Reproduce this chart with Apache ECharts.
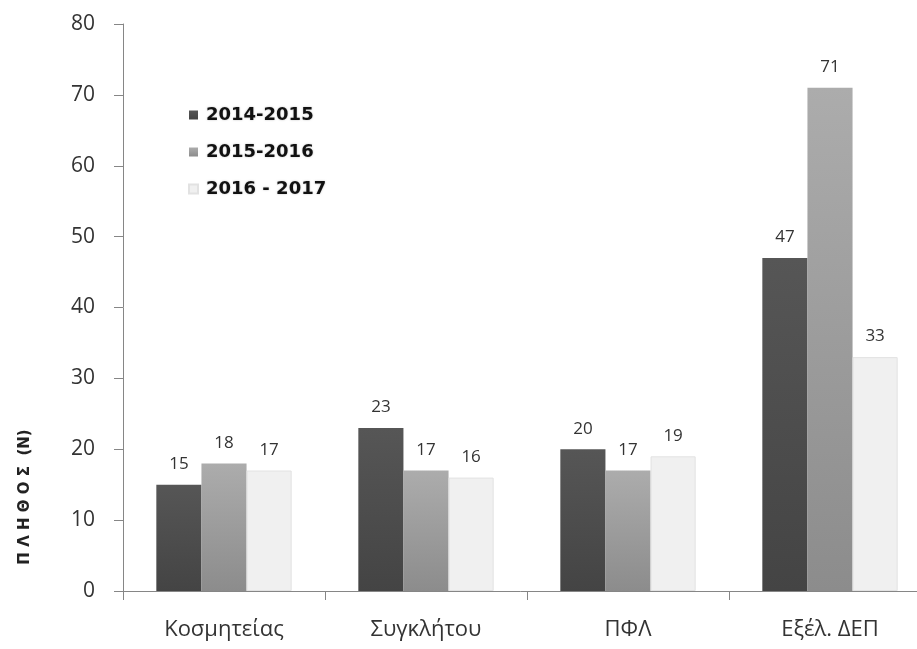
<!DOCTYPE html>
<html>
<head>
<meta charset="utf-8">
<script src="https://cdn.jsdelivr.net/npm/echarts@6/dist/echarts.min.js"></script>
<style>html,body{margin:0;padding:0;background:#fff;}#c{width:917px;height:649px;}</style>
</head>
<body>
<div id="c"></div>
<script>
const categories = ['Κοσμητείας', 'Συγκλήτου', 'ΠΦΛ', 'Εξέλ. ΔΕΠ'];
const seriesNames = ['2014-2015', '2015-2016', '2016 - 2017'];
const values2014 = [15, 23, 20, 47];
const values2015 = [18, 17, 17, 71];
const values2016 = [17, 16, 19, 33];
const yTicks = { min: 0, max: 80, interval: 10 };
const yAxisTitle = 'Π Λ Η Θ Ο Σ  (N)';

const chart = echarts.init(document.getElementById('c'), null, {renderer: 'canvas'});
function grad(top, bottom) {
  return new echarts.graphic.LinearGradient(0, 0, 0, 1, [{offset: 0, color: top}, {offset: 1, color: bottom}]);
}
const labelStyle = {show: true, position: 'top', distance: 12, fontFamily: 'Open Sans', fontSize: 17, color: '#333'};
chart.setOption({
  animation: false,
  backgroundColor: '#fff',
  grid: {left: 123, right: -14, top: 24, bottom: 58, containLabel: false, outerBoundsMode: 'none'},
  legend: {
    orient: 'vertical', left: 183, top: 100, itemGap: 17,
    itemWidth: 9, itemHeight: 9, icon: 'rect',
    textStyle: {fontFamily: 'DejaVu Sans', fontWeight: 'bold', fontSize: 18, color: '#111', lineHeight: 20,
      padding: [0, 0, 0, 3], textShadowColor: 'rgba(0,0,0,0.25)', textShadowBlur: 2},
    data: seriesNames
  },
  xAxis: {
    type: 'category', data: categories,
    axisLine: {lineStyle: {color: '#868686', width: 1}},
    axisTick: {show: true, length: 9, lineStyle: {color: '#868686'}},
    axisLabel: {fontFamily: 'Open Sans', fontSize: 22, color: '#333', margin: 28}
  },
  yAxis: {
    type: 'value', min: yTicks.min, max: yTicks.max, interval: yTicks.interval,
    axisLine: {show: true, lineStyle: {color: '#868686', width: 1}},
    axisTick: {show: true, length: 9, lineStyle: {color: '#868686'}},
    splitLine: {show: false},
    axisLabel: {fontFamily: 'Open Sans', fontSize: 21, color: '#333', margin: 28}
  },
  graphic: [{
    type: 'text', x: 25, y: 497, rotation: Math.PI / 2,
    style: {text: yAxisTitle, fontFamily: 'DejaVu Sans', fontWeight: 'bold', fontSize: 15, fill: '#222',
      align: 'center', verticalAlign: 'middle'}
  }],
  series: [
    {name: seriesNames[0], type: 'bar', data: values2014, barGap: '0%', barCategoryGap: '33%',
      itemStyle: {color: grad('#565656', '#444444')}, label: labelStyle},
    {name: seriesNames[1], type: 'bar', data: values2015, barGap: '0%', barCategoryGap: '33%',
      itemStyle: {color: grad('#acacac', '#8c8c8c')}, label: labelStyle},
    {name: seriesNames[2], type: 'bar', data: values2016, barGap: '0%', barCategoryGap: '33%',
      itemStyle: {color: '#f0f0f0', borderColor: '#e2e2e2', borderWidth: 1}, label: labelStyle}
  ]
});
</script>
</body>
</html>
